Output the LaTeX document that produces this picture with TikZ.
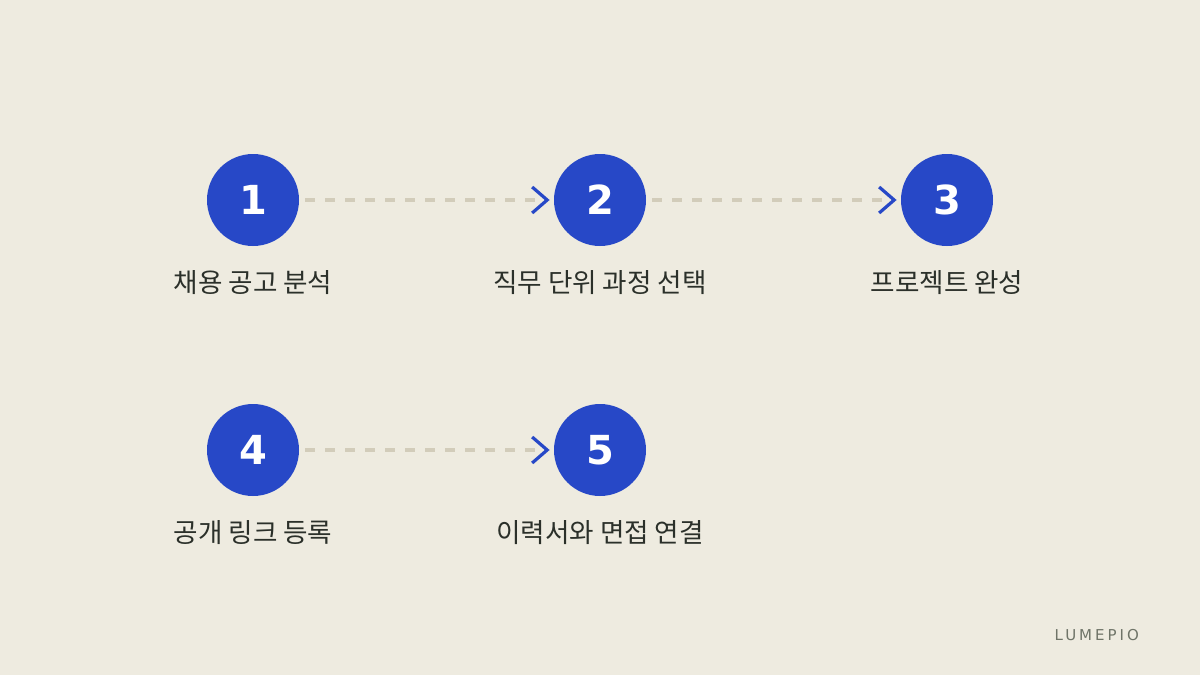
\documentclass[tikz,border=0pt]{standalone}
\usepackage{fontspec}
\setmainfont{DejaVu Sans}
\newfontfamily\cjk{Noto Sans CJK KR}
\newfontfamily\brandfont[LetterSpace=20]{DejaVu Sans}
\usetikzlibrary{arrows.meta,positioning}
\definecolor{paper}{HTML}{EEEBE0}
\definecolor{stepblue}{HTML}{2748C7}
\definecolor{dashgrey}{HTML}{D2CCBA}
\definecolor{labelink}{HTML}{2B302A}
\definecolor{brandgrey}{HTML}{6F7468}
\tikzstyle{stepdot} = [circle, fill=stepblue, text=white, minimum size=46pt, inner sep=0pt, font=\bfseries\fontsize{20}{20}\selectfont]
\tikzstyle{steplabel} = [text=labelink, font=\cjk\fontsize{13.3}{15}\selectfont, inner sep=0pt]
\tikzstyle{line} = [draw=dashgrey, line width=2pt, dash pattern=on 5pt off 5pt, shorten <=3pt, shorten >=2pt, -{Straight Barb[length=7.5pt, width=13pt, line width=1.6pt, color=stepblue]}]

\begin{document}
\begin{tikzpicture}[x=0.5pt, y=-0.5pt, node distance = 173.5pt]
    \fill [paper] (0,0) rectangle (1200,675);
    \useasboundingbox (0,0) rectangle (1200,675);

    % Place nodes
    \node [stepdot] at (253,200) (s1) {1};
    \node [stepdot, right of=s1] (s2) {2};
    \node [stepdot, right of=s2] (s3) {3};
    \node [stepdot, below of=s1, node distance=125pt] (s4) {4};
    \node [stepdot, right of=s4] (s5) {5};
    \node [steplabel, below of=s1, node distance=41.5pt] (t1) {채용 공고 분석};
    \node [steplabel, below of=s2, node distance=41.5pt] (t2) {직무 단위 과정 선택};
    \node [steplabel, below of=s3, node distance=41.5pt] (t3) {프로젝트 완성};
    \node [steplabel, below of=s4, node distance=41.5pt] (t4) {공개 링크 등록};
    \node [steplabel, below of=s5, node distance=41.5pt] (t5) {이력서와 면접 연결};
    \node [text=brandgrey, font=\brandfont\fontsize{7.5}{9}\selectfont, anchor=east] at (1146,635) (brand) {LUMEPIO};

    % Draw edges
    \path [line] (s1) -- (s2);
    \path [line] (s2) -- (s3);
    \path [line] (s4) -- (s5);
\end{tikzpicture}
\end{document}
